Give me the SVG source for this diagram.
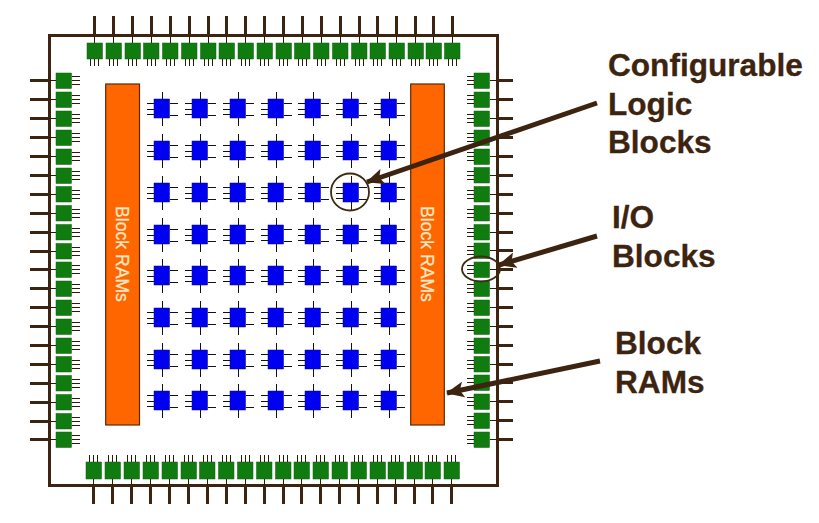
<svg xmlns="http://www.w3.org/2000/svg" width="819" height="523" viewBox="0 0 819 523">
<style>
.frame{fill:none;stroke:#3d2410;stroke-width:3}
.thick{stroke:#3d2410;stroke-width:3;fill:none;shape-rendering:crispEdges}
.thin{stroke:#2a1a0a;stroke-width:1;fill:none;shape-rendering:crispEdges}
.io{fill:#107c10;stroke:#0c5f0c;stroke-width:.5}
.clb{fill:#0000f0;stroke:#00008c;stroke-width:.5}
.clbpin{stroke:#111;stroke-width:1;fill:none;shape-rendering:crispEdges}
.ram{fill:#ff6600;stroke:#5a2a08;stroke-width:1.2}
.ramt{font-family:"Liberation Sans",Arial,sans-serif;font-size:17.600px;fill:#ffe9c8;stroke:#ffe9c8;stroke-width:.25;text-anchor:middle}
.lab{font-family:"Liberation Sans",Arial,sans-serif;font-weight:bold;font-size:31.600px;fill:#3d2410;stroke:#3d2410;stroke-width:.3}
.arrow{stroke:#3d2410;stroke-width:5;fill:none;marker-end:url(#ah)}
.ring{fill:none;stroke:#3d2c12;stroke-width:1.800}
</style>
<defs>
<marker id="ah" markerUnits="userSpaceOnUse" markerWidth="20" markerHeight="16" refX="17" refY="8" orient="auto"><path d="M0 0L18 8L0 16L4 8Z" fill="#3d2410"/></marker>
<g id="ioT"><rect class="io" x="0" y="0" width="15.500" height="16"/><path class="thin" d="M7.500 0V-7M3.500 16v6.500M7.500 16v6.500M11.500 16v6.500"/><path class="thick" d="M7.500 -7V-27"/></g>
<g id="ioB"><rect class="io" x="0" y="0" width="15.500" height="17"/><path class="thin" d="M7.500 17V23M3.500 0V-7M7.500 0V-7M11.500 0V-7"/><path class="thick" d="M7.500 23V42"/></g>
<g id="ioL"><rect class="io" x="0" y="0" width="15.500" height="15.500"/><path class="thin" d="M0 7.500H-7M15.500 3.500H24M15.500 7.500H24M15.500 11.500H24"/><path class="thick" d="M-7 7.500H-26"/></g>
<g id="ioR"><rect class="io" x="0" y="0" width="15.500" height="15.500"/><path class="thin" d="M15.500 7.500H23M0 3.500H-7M0 7.500H-7M0 11.500H-7"/><path class="thick" d="M23 7.500H39"/></g>
<g id="clb"><rect class="clb" x="0" y="0" width="15.500" height="19"/><path class="clbpin" d="M8.500 0V-7M8.500 19V27M0 4.500H-7M0 10.500H-7M0 15.500H-7M15.500 4.500H24M15.500 16.500H24"/></g>
</defs>
<rect width="819" height="523" fill="#fff"/>
<g id="frame"><rect class="frame" x="49.500" y="35.500" width="448" height="450"/></g>
<g id="io-top">
<use href="#ioT" x="87" y="43"/><use href="#ioT" x="106" y="43"/><use href="#ioT" x="125" y="43"/><use href="#ioT" x="143.500" y="43"/><use href="#ioT" x="162.500" y="43"/><use href="#ioT" x="181.500" y="43"/><use href="#ioT" x="200.500" y="43"/><use href="#ioT" x="219" y="43"/><use href="#ioT" x="238" y="43"/><use href="#ioT" x="257" y="43"/><use href="#ioT" x="276" y="43"/><use href="#ioT" x="294.500" y="43"/><use href="#ioT" x="313.500" y="43"/><use href="#ioT" x="332.500" y="43"/><use href="#ioT" x="351.500" y="43"/><use href="#ioT" x="370" y="43"/><use href="#ioT" x="389" y="43"/><use href="#ioT" x="408" y="43"/><use href="#ioT" x="426" y="43"/><use href="#ioT" x="444.500" y="43"/>
</g>
<g id="io-bottom">
<use href="#ioB" x="86" y="462"/><use href="#ioB" x="105" y="462"/><use href="#ioB" x="124" y="462"/><use href="#ioB" x="143" y="462"/><use href="#ioB" x="162" y="462"/><use href="#ioB" x="181" y="462"/><use href="#ioB" x="199.500" y="462"/><use href="#ioB" x="218.500" y="462"/><use href="#ioB" x="237.500" y="462"/><use href="#ioB" x="256.500" y="462"/><use href="#ioB" x="275.500" y="462"/><use href="#ioB" x="294" y="462"/><use href="#ioB" x="313" y="462"/><use href="#ioB" x="332" y="462"/><use href="#ioB" x="351" y="462"/><use href="#ioB" x="370" y="462"/><use href="#ioB" x="388" y="462"/><use href="#ioB" x="407" y="462"/><use href="#ioB" x="425" y="462"/><use href="#ioB" x="444" y="462"/>
</g>
<g id="io-left">
<use href="#ioL" x="56" y="73"/><use href="#ioL" x="56" y="92"/><use href="#ioL" x="56" y="111"/><use href="#ioL" x="56" y="130"/><use href="#ioL" x="56" y="149"/><use href="#ioL" x="56" y="168"/><use href="#ioL" x="56" y="186.500"/><use href="#ioL" x="56" y="205.500"/><use href="#ioL" x="56" y="224.500"/><use href="#ioL" x="56" y="243.500"/><use href="#ioL" x="56" y="262"/><use href="#ioL" x="56" y="281"/><use href="#ioL" x="56" y="300"/><use href="#ioL" x="56" y="319"/><use href="#ioL" x="56" y="338"/><use href="#ioL" x="56" y="356.500"/><use href="#ioL" x="56" y="375.500"/><use href="#ioL" x="56" y="394.500"/><use href="#ioL" x="56" y="413.500"/><use href="#ioL" x="56" y="432"/>
</g>
<g id="io-right">
<use href="#ioR" x="474" y="73"/><use href="#ioR" x="474" y="92"/><use href="#ioR" x="474" y="111"/><use href="#ioR" x="474" y="130"/><use href="#ioR" x="474" y="149"/><use href="#ioR" x="474" y="167.500"/><use href="#ioR" x="474" y="186.500"/><use href="#ioR" x="474" y="205.500"/><use href="#ioR" x="474" y="224.500"/><use href="#ioR" x="474" y="243"/><use href="#ioR" x="474" y="262"/><use href="#ioR" x="474" y="281"/><use href="#ioR" x="474" y="300"/><use href="#ioR" x="474" y="319"/><use href="#ioR" x="474" y="338"/><use href="#ioR" x="474" y="356.500"/><use href="#ioR" x="474" y="375"/><use href="#ioR" x="474" y="394"/><use href="#ioR" x="474" y="413"/><use href="#ioR" x="474" y="432"/>
</g>
<g id="clbs">
<use href="#clb" x="154" y="99"/><use href="#clb" x="192" y="99"/><use href="#clb" x="230" y="99"/><use href="#clb" x="268" y="99"/><use href="#clb" x="305" y="99"/><use href="#clb" x="343" y="99"/><use href="#clb" x="381" y="99"/>
<use href="#clb" x="154" y="141"/><use href="#clb" x="192" y="141"/><use href="#clb" x="230" y="141"/><use href="#clb" x="268" y="141"/><use href="#clb" x="305" y="141"/><use href="#clb" x="343" y="141"/><use href="#clb" x="381" y="141"/>
<use href="#clb" x="154" y="183"/><use href="#clb" x="192" y="183"/><use href="#clb" x="230" y="183"/><use href="#clb" x="268" y="183"/><use href="#clb" x="305" y="183"/><use href="#clb" x="343" y="183"/><use href="#clb" x="381" y="183"/>
<use href="#clb" x="154" y="225"/><use href="#clb" x="192" y="225"/><use href="#clb" x="230" y="225"/><use href="#clb" x="268" y="225"/><use href="#clb" x="305" y="225"/><use href="#clb" x="343" y="225"/><use href="#clb" x="381" y="225"/>
<use href="#clb" x="154" y="266"/><use href="#clb" x="192" y="266"/><use href="#clb" x="230" y="266"/><use href="#clb" x="268" y="266"/><use href="#clb" x="305" y="266"/><use href="#clb" x="343" y="266"/><use href="#clb" x="381" y="266"/>
<use href="#clb" x="154" y="308"/><use href="#clb" x="192" y="308"/><use href="#clb" x="230" y="308"/><use href="#clb" x="268" y="308"/><use href="#clb" x="305" y="308"/><use href="#clb" x="343" y="308"/><use href="#clb" x="381" y="308"/>
<use href="#clb" x="154" y="350"/><use href="#clb" x="192" y="350"/><use href="#clb" x="230" y="350"/><use href="#clb" x="268" y="350"/><use href="#clb" x="305" y="350"/><use href="#clb" x="343" y="350"/><use href="#clb" x="381" y="350"/>
<use href="#clb" x="154" y="391"/><use href="#clb" x="192" y="391"/><use href="#clb" x="230" y="391"/><use href="#clb" x="268" y="391"/><use href="#clb" x="305" y="391"/><use href="#clb" x="343" y="391"/><use href="#clb" x="381" y="391"/>
</g>
<g id="ram-left"><rect class="ram" x="105.700" y="84" width="33.800" height="341"/><text class="ramt" transform="translate(116,254) rotate(90)">Block RAMs</text></g>
<g id="ram-right"><rect class="ram" x="410.700" y="84" width="33.600" height="341"/><text class="ramt" transform="translate(420.500,254) rotate(90)">Block RAMs</text></g>
<g id="connectors">
<ellipse class="ring" cx="350" cy="192" rx="19" ry="18.500"/>
<ellipse class="ring" cx="481" cy="269" rx="19" ry="12.500"/>
<line class="arrow" x1="597" y1="103" x2="367" y2="182"/>
<line class="arrow" x1="597" y1="236" x2="499" y2="265"/>
<line class="arrow" x1="600" y1="361" x2="447" y2="393"/>
</g>
<g id="labels">
<text class="lab" x="608" y="76">Configurable</text>
<text class="lab" x="608" y="115">Logic</text>
<text class="lab" x="608" y="153">Blocks</text>
<text class="lab" x="612" y="228">I/O</text>
<text class="lab" x="612" y="267">Blocks</text>
<text class="lab" x="615" y="354">Block</text>
<text class="lab" x="615" y="393">RAMs</text>
</g>
</svg>
